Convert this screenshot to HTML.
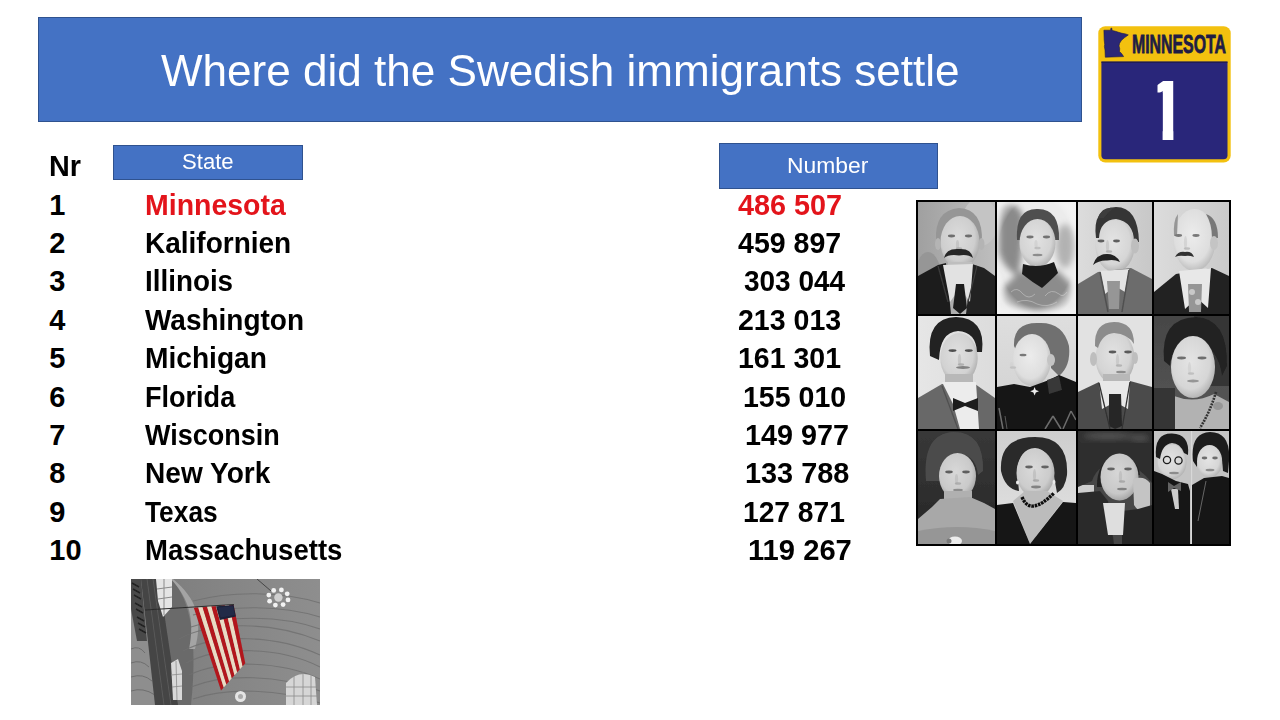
<!DOCTYPE html>
<html><head><meta charset="utf-8"><title>Where did the Swedish immigrants settle</title>
<style>
html,body{margin:0;padding:0;background:#fff}
body{width:1280px;height:720px;position:relative;overflow:hidden;font-family:"Liberation Sans",Arial,sans-serif}
.box{position:absolute;box-sizing:border-box;background:#4472c4;border:1px solid #2f528f}
.t{position:absolute;white-space:pre;line-height:1;transform-origin:0 0;display:block}
.pic{position:absolute;display:block}
</style></head><body>
<div class="box" style="left:38px;top:17px;width:1044px;height:105px"></div>
<div class="box" style="left:113px;top:145px;width:190px;height:35px"></div>
<div class="box" style="left:719px;top:143px;width:219px;height:46px"></div>
<span class="t" style="left:160.73px;top:48.76px;font-size:44.00px;font-weight:400;color:#fff;transform:scaleX(1.0016)">Where did the Swedish immigrants settle</span>
<span class="t" style="left:181.92px;top:152.37px;font-size:21.43px;font-weight:400;color:#fff;transform:scaleX(1.0322)">State</span>
<span class="t" style="left:786.83px;top:155.13px;font-size:21.71px;font-weight:400;color:#fff;transform:scaleX(1.0546)">Number</span>
<span class="t" style="left:48.83px;top:152.06px;font-size:29.00px;font-weight:700;color:#000;transform:scaleX(0.9928)">Nr</span>
<span class="t" style="left:49.30px;top:191.06px;font-size:29.00px;font-weight:700;color:#000">1</span>
<span class="t" style="left:144.92px;top:191.06px;font-size:29.00px;font-weight:700;color:#e3141b;transform:scaleX(0.9819)">Minnesota</span>
<span class="t" style="left:737.77px;top:191.06px;font-size:29.00px;font-weight:700;color:#e3141b;transform:scaleX(0.9934)">486 507</span>
<span class="t" style="left:49.30px;top:229.06px;font-size:29.00px;font-weight:700;color:#000">2</span>
<span class="t" style="left:145.06px;top:229.06px;font-size:29.00px;font-weight:700;color:#000;transform:scaleX(0.9654)">Kalifornien</span>
<span class="t" style="left:738.24px;top:229.06px;font-size:29.00px;font-weight:700;color:#000;transform:scaleX(0.9846)">459 897</span>
<span class="t" style="left:49.30px;top:267.06px;font-size:29.00px;font-weight:700;color:#000">3</span>
<span class="t" style="left:145.10px;top:267.06px;font-size:29.00px;font-weight:700;color:#000;transform:scaleX(0.9589)">Illinois</span>
<span class="t" style="left:744.01px;top:267.06px;font-size:29.00px;font-weight:700;color:#000;transform:scaleX(0.9647)">303 044</span>
<span class="t" style="left:49.30px;top:306.06px;font-size:29.00px;font-weight:700;color:#000">4</span>
<span class="t" style="left:145.45px;top:306.06px;font-size:29.00px;font-weight:700;color:#000;transform:scaleX(0.9645)">Washington</span>
<span class="t" style="left:738.06px;top:306.06px;font-size:29.00px;font-weight:700;color:#000;transform:scaleX(0.9841)">213 013</span>
<span class="t" style="left:49.30px;top:344.06px;font-size:29.00px;font-weight:700;color:#000">5</span>
<span class="t" style="left:145.19px;top:344.06px;font-size:29.00px;font-weight:700;color:#000;transform:scaleX(0.9705)">Michigan</span>
<span class="t" style="left:738.49px;top:344.06px;font-size:29.00px;font-weight:700;color:#000;transform:scaleX(0.9825)">161 301</span>
<span class="t" style="left:49.30px;top:383.06px;font-size:29.00px;font-weight:700;color:#000">6</span>
<span class="t" style="left:144.59px;top:383.06px;font-size:29.00px;font-weight:700;color:#000;transform:scaleX(0.9329)">Florida</span>
<span class="t" style="left:742.86px;top:383.06px;font-size:29.00px;font-weight:700;color:#000;transform:scaleX(0.9837)">155 010</span>
<span class="t" style="left:49.30px;top:421.06px;font-size:29.00px;font-weight:700;color:#000">7</span>
<span class="t" style="left:145.33px;top:421.06px;font-size:29.00px;font-weight:700;color:#000;transform:scaleX(0.9302)">Wisconsin</span>
<span class="t" style="left:744.62px;top:421.06px;font-size:29.00px;font-weight:700;color:#000;transform:scaleX(0.9912)">149 977</span>
<span class="t" style="left:49.30px;top:459.06px;font-size:29.00px;font-weight:700;color:#000">8</span>
<span class="t" style="left:145.21px;top:459.06px;font-size:29.00px;font-weight:700;color:#000;transform:scaleX(0.9679)">New York</span>
<span class="t" style="left:744.60px;top:459.06px;font-size:29.00px;font-weight:700;color:#000;transform:scaleX(0.9948)">133 788</span>
<span class="t" style="left:49.30px;top:498.06px;font-size:29.00px;font-weight:700;color:#000">9</span>
<span class="t" style="left:145.01px;top:498.06px;font-size:29.00px;font-weight:700;color:#000;transform:scaleX(0.9074)">Texas</span>
<span class="t" style="left:743.13px;top:498.06px;font-size:29.00px;font-weight:700;color:#000;transform:scaleX(0.9722)">127 871</span>
<span class="t" style="left:49.30px;top:536.06px;font-size:29.00px;font-weight:700;color:#000">10</span>
<span class="t" style="left:144.50px;top:536.06px;font-size:29.00px;font-weight:700;color:#000;transform:scaleX(0.9493)">Massachusetts</span>
<span class="t" style="left:747.80px;top:536.06px;font-size:29.00px;font-weight:700;color:#000;transform:scaleX(1.0058)">119 267</span>
<svg class="pic" style="left:1096px;top:24px" width="138" height="141" viewBox="1096 24 138 141">
<rect x="1098.3" y="26.2" width="132.4" height="136.3" rx="7" fill="#f3c10f"/>
<path d="M1101.4 61.8 H1227.5 V155.3 Q1227.5 159.3 1223.5 159.3 H1105.4 Q1101.4 159.3 1101.4 155.3 Z" fill="#29267a"/>
<rect x="1101.4" y="61.5" width="126.1" height="1.3" fill="#1e1b4e"/>
<path d="M1103.9 30.2 L1110.6 30.2 L1110.9 28.2 L1111.8 28.2 L1112.1 30.4 L1115.5 31.3 L1118.5 32.3 L1122 33.3 L1125.5 33.9 L1128.3 34.9 L1124.6 37.6 L1121.5 40.3 L1119.6 43.2 L1119 45.9 L1119.7 48.6 L1119.5 51.4 L1121.6 53.6 L1123.6 56.6 L1105.3 57.2 L1105 50 L1104.4 46.5 L1104.7 44.5 L1104.2 40 Z" fill="#2b2776" stroke="#1d1a45" stroke-width="0.6"/>
<text x="1132" y="52.7" font-family="Liberation Sans, Arial, sans-serif" font-weight="700" font-size="26" fill="#201c44" textLength="94" lengthAdjust="spacingAndGlyphs" stroke="#201c44" stroke-width="0.8">MINNESOTA</text>
<clipPath id="oneclip"><path d="M1157.5 70 L1173.4 70 L1173.4 141 L1162.6 141 L1162.6 92.5 L1157.5 92.5 Z"/></clipPath>
<g clip-path="url(#oneclip)"><text x="0" y="0" font-family="Liberation Sans, Arial, sans-serif" font-weight="700" font-size="85.8" fill="#fff" transform="translate(1144.3 140) scale(0.92 1)">1</text></g>
</svg>

<svg class="pic" style="left:916px;top:200px" width="315" height="346" viewBox="916 200 315 346">
<defs><filter id="pb" x="0" y="0" width="1" height="1"><feGaussianBlur stdDeviation="0.75"/></filter><filter id="pb3" x="-20%" y="-20%" width="140%" height="140%"><feGaussianBlur stdDeviation="3"/></filter><radialGradient id="vig" cx="0.5" cy="0.45" r="0.62"><stop offset="0.78" stop-color="#fff" stop-opacity="0"/><stop offset="1" stop-color="#f2f2f2" stop-opacity="0.9"/></radialGradient><clipPath id="c0"><rect x="0" y="0" width="77" height="112"/></clipPath><clipPath id="c1"><rect x="0" y="0" width="79" height="112"/></clipPath><clipPath id="c2"><rect x="0" y="0" width="74" height="112"/></clipPath><clipPath id="c3"><rect x="0" y="0" width="75" height="112"/></clipPath><clipPath id="c4"><rect x="0" y="0" width="77" height="113"/></clipPath><clipPath id="c5"><rect x="0" y="0" width="79" height="113"/></clipPath><clipPath id="c6"><rect x="0" y="0" width="74" height="113"/></clipPath><clipPath id="c7"><rect x="0" y="0" width="75" height="113"/></clipPath><clipPath id="c8"><rect x="0" y="0" width="77" height="113"/></clipPath><clipPath id="c9"><rect x="0" y="0" width="79" height="113"/></clipPath><clipPath id="c10"><rect x="0" y="0" width="74" height="113"/></clipPath><clipPath id="c11"><rect x="0" y="0" width="75" height="113"/></clipPath><linearGradient id="bg1" x1="0" y1="0" x2="1" y2="0"><stop offset="0" stop-color="#a0a0a0"/><stop offset="1" stop-color="#bebebe"/></linearGradient><radialGradient id="fg206" cx="0.45" cy="0.42" r="0.62"><stop offset="0" stop-color="#dcdcdc"/><stop offset="0.7" stop-color="#cecece"/><stop offset="1" stop-color="#a6a6a6"/></radialGradient><radialGradient id="fg212" cx="0.45" cy="0.42" r="0.62"><stop offset="0" stop-color="#e2e2e2"/><stop offset="0.7" stop-color="#d4d4d4"/><stop offset="1" stop-color="#acacac"/></radialGradient><linearGradient id="bg3" x1="0" y1="0" x2="1" y2="0"><stop offset="0" stop-color="#dcdcdc"/><stop offset="1" stop-color="#c8c8c8"/></linearGradient><radialGradient id="fg214" cx="0.45" cy="0.42" r="0.62"><stop offset="0" stop-color="#e4e4e4"/><stop offset="0.7" stop-color="#d6d6d6"/><stop offset="1" stop-color="#aeaeae"/></radialGradient><linearGradient id="bg4" x1="0" y1="0" x2="1" y2="0"><stop offset="0" stop-color="#dcdcdc"/><stop offset="1" stop-color="#cacaca"/></linearGradient><radialGradient id="fg222" cx="0.45" cy="0.42" r="0.62"><stop offset="0" stop-color="#ececec"/><stop offset="0.7" stop-color="#dedede"/><stop offset="1" stop-color="#b6b6b6"/></radialGradient><linearGradient id="bg5" x1="0" y1="0" x2="1" y2="0"><stop offset="0" stop-color="#e6e6e6"/><stop offset="1" stop-color="#dcdcdc"/></linearGradient><radialGradient id="fg210" cx="0.45" cy="0.42" r="0.62"><stop offset="0" stop-color="#e0e0e0"/><stop offset="0.7" stop-color="#d2d2d2"/><stop offset="1" stop-color="#aaaaaa"/></radialGradient><linearGradient id="bg6" x1="0" y1="0" x2="0" y2="1"><stop offset="0" stop-color="#dedede"/><stop offset="1" stop-color="#d0d0d0"/></linearGradient><linearGradient id="bg8" x1="0" y1="0" x2="0" y2="1"><stop offset="0" stop-color="#464646"/><stop offset="1" stop-color="#585858"/></linearGradient><linearGradient id="bg9" x1="0" y1="0" x2="0" y2="1"><stop offset="0" stop-color="#383838"/><stop offset="1" stop-color="#262626"/></linearGradient><radialGradient id="fg202" cx="0.45" cy="0.42" r="0.62"><stop offset="0" stop-color="#d8d8d8"/><stop offset="0.7" stop-color="#cacaca"/><stop offset="1" stop-color="#a2a2a2"/></radialGradient><linearGradient id="bg10" x1="0" y1="0" x2="0" y2="1"><stop offset="0" stop-color="#cecece"/><stop offset="1" stop-color="#e4e4e4"/></linearGradient><radialGradient id="fg204" cx="0.45" cy="0.42" r="0.62"><stop offset="0" stop-color="#dadada"/><stop offset="0.7" stop-color="#cccccc"/><stop offset="1" stop-color="#a4a4a4"/></radialGradient><radialGradient id="fg200" cx="0.45" cy="0.42" r="0.62"><stop offset="0" stop-color="#d6d6d6"/><stop offset="0.7" stop-color="#c8c8c8"/><stop offset="1" stop-color="#a0a0a0"/></radialGradient></defs>
<rect x="916" y="200" width="315" height="346" fill="#000"/>
<g transform="translate(918 202)" clip-path="url(#c0)"><g filter="url(#pb)"><rect x="0" y="0" width="77" height="112" fill="url(#bg1)"/><ellipse cx="62" cy="20" rx="18" ry="24" fill="#c4c4c4"/><ellipse cx="10" cy="80" rx="14" ry="30" fill="#969696"/><path d="M18 40 Q16 8 41 6 Q65 7 64 40 Z" fill="#969696"/><ellipse cx="42" cy="40" rx="19.5" ry="26" fill="url(#fg206)"/><ellipse cx="20" cy="42" rx="3" ry="6" fill="#b4b4b4"/><ellipse cx="63.5" cy="42" rx="3" ry="6" fill="#b4b4b4"/><ellipse cx="33.5" cy="34" rx="3.6" ry="1.4" fill="#6e6e6e"/><ellipse cx="50.5" cy="34" rx="3.6" ry="1.4" fill="#6e6e6e"/><ellipse cx="39.5" cy="42.5" rx="1.6" ry="4.5" fill="#b7b7b7" opacity="0.55"/><ellipse cx="41.0" cy="46.5" rx="3.2" ry="1.3" fill="#a0a0a0" opacity="0.7"/><path d="M26 56 Q28 46 41 47 Q53 46 55 56 Q50 52 41 53.5 Q31 52 26 56 Z" fill="#282828"/><rect x="30" y="60" width="24" height="10" fill="#bebebe"/><path d="M0 74 L20 63 L28 61 L33 112 L0 112 Z" fill="#1e1e1e"/><path d="M54 62 L66 66 L77 74 L77 112 L48 112 Z" fill="#202020"/><polygon points="25,63 55,62 52,100 42,86 32,100" fill="#e2e2e2"/><polygon points="38,82 46,82 49,106 42,112 35,106" fill="#1e1e1e"/><line x1="20" y1="64" x2="30" y2="100" stroke="#3c3c3c" stroke-width="1.2"/><line x1="59" y1="64" x2="50" y2="100" stroke="#3c3c3c" stroke-width="1.2"/></g></g>
<g transform="translate(997 202)" clip-path="url(#c1)"><g filter="url(#pb)"><rect x="0" y="0" width="79" height="112" fill="#ececec"/><g filter="url(#pb3)"><path d="M2 2 Q20 -2 26 14 Q27 44 21 74 Q6 66 2 50 Z" fill="#8a8a8a"/><ellipse cx="68" cy="44" rx="9" ry="22" fill="#b2b2b2"/><polygon points="6,86 22,70 60,68 74,82 76,106 40,110 4,104" fill="#8c8c8c"/></g><path d="M20 38 Q18 6 41 7 Q63 7 62 38 Z" fill="#505050"/><ellipse cx="40.5" cy="41" rx="18" ry="24" fill="url(#fg212)"/><ellipse cx="33" cy="35" rx="3.6" ry="1.4" fill="#737373"/><ellipse cx="49.5" cy="35" rx="3.6" ry="1.4" fill="#737373"/><ellipse cx="39" cy="42" rx="1.6" ry="4" fill="#c8c8c8" opacity="0.55"/><ellipse cx="40.5" cy="46" rx="3.2" ry="1.3" fill="#b4b4b4" opacity="0.7"/><ellipse cx="40.5" cy="53" rx="5" ry="1.2" fill="#8c8c8c"/><path d="M26 62 Q41 67 57 60 L61 71 Q52 80 45 86 Q35 80 25 72 Z" fill="#1e1e1e"/><g stroke="#b8b8b8" stroke-width="1" fill="none" opacity="0.8"><path d="M14 90 Q20 84 26 92 Q32 98 38 92"/><path d="M48 94 Q54 86 62 92 Q66 96 70 90"/><path d="M20 100 Q30 96 40 102 Q50 106 60 100"/></g><rect x="0" y="0" width="79" height="112" fill="url(#vig)"/></g></g>
<g transform="translate(1078 202)" clip-path="url(#c2)"><g filter="url(#pb)"><rect x="0" y="0" width="74" height="112" fill="url(#bg3)"/><ellipse cx="37" cy="44" rx="19.5" ry="26" fill="url(#fg214)"/><path d="M18 36 Q14 6 38 5 Q60 5 61 40 L56 40 Q56 20 38 17 Q22 18 21 36 Z" fill="#343434"/><path d="M20 16 Q24 4 36 6 Q30 10 26 16 Z" fill="#3c3c3c"/><ellipse cx="57" cy="44" rx="4" ry="7.5" fill="#bebebe"/><ellipse cx="23" cy="39" rx="3.4" ry="1.4" fill="#5f5f5f"/><ellipse cx="38.5" cy="39" rx="3.4" ry="1.4" fill="#5f5f5f"/><ellipse cx="29.5" cy="44.0" rx="1.6" ry="6.0" fill="#bcbcbc" opacity="0.55"/><ellipse cx="31.0" cy="49.5" rx="3.2" ry="1.3" fill="#a5a5a5" opacity="0.7"/><path d="M15 63 Q18 52 29 52 Q38 52 42 60 Q36 57 29 58.5 Q21 58 15 63 Z" fill="#202020"/><path d="M0 82 L20 70 L53 66 L74 77 L74 112 L0 112 Z" fill="#6c6c6c"/><polygon points="22,69 51,67 47,90 37,84 27,92" fill="#e4e4e4"/><polygon points="29,79 42,79 41,107 31,107" fill="#969696"/><line x1="22" y1="70" x2="30" y2="110" stroke="#505050" stroke-width="1.5"/><line x1="51" y1="68" x2="44" y2="110" stroke="#505050" stroke-width="1.5"/></g></g>
<g transform="translate(1154 202)" clip-path="url(#c3)"><g filter="url(#pb)"><rect x="0" y="0" width="75" height="112" fill="url(#bg4)"/><ellipse cx="40.5" cy="38" rx="21" ry="31" fill="url(#fg222)"/><path d="M52 12 Q64 16 64 36 L58 36 Q58 22 52 12 Z" fill="#787878"/><path d="M20 34 Q19 18 24 12 L23 34 Z" fill="#969696"/><ellipse cx="60" cy="41" rx="4" ry="7" fill="#c4c4c4"/><ellipse cx="24.5" cy="33.5" rx="3.6" ry="1.4" fill="#787878"/><ellipse cx="42" cy="33.5" rx="3.6" ry="1.4" fill="#787878"/><ellipse cx="31.5" cy="40.5" rx="1.6" ry="6.5" fill="#c6c6c6" opacity="0.55"/><ellipse cx="33.0" cy="46.5" rx="3.2" ry="1.3" fill="#afafaf" opacity="0.7"/><path d="M21 55 Q24 49 31 50 Q38 49 40 55 Q35 53 31 54 Q25 53 21 55 Z" fill="#323232"/><path d="M0 90 L22 72 L58 66 L75 74 L75 112 L0 112 Z" fill="#222222"/><polygon points="25,69 57,66 54,106 43,96 31,107" fill="#e8e8e8"/><polygon points="34,82 48,82 47,110 35,110" fill="#969696"/><ellipse cx="38" cy="90" rx="3" ry="3" fill="#c8c8c8"/><ellipse cx="44" cy="100" rx="3" ry="3" fill="#c8c8c8"/></g></g>
<g transform="translate(918 316)" clip-path="url(#c4)"><g filter="url(#pb)"><rect x="0" y="0" width="77" height="113" fill="url(#bg5)"/><ellipse cx="41" cy="42" rx="18.7" ry="25" fill="url(#fg210)"/><path d="M12 40 Q8 2 38 1 Q68 2 64 36 L59 36 Q58 16 40 15 Q22 16 21 44 Z" fill="#202020"/><ellipse cx="34.5" cy="34.6" rx="4" ry="1.4" fill="#505050"/><ellipse cx="50.8" cy="34.6" rx="4" ry="1.4" fill="#505050"/><ellipse cx="41.5" cy="43.5" rx="1.6" ry="5.5" fill="#b7b7b7" opacity="0.55"/><ellipse cx="43.0" cy="48.5" rx="3.2" ry="1.3" fill="#a0a0a0" opacity="0.7"/><ellipse cx="45" cy="51.5" rx="7" ry="1.4" fill="#828282"/><rect x="27" y="58" width="28" height="12" fill="#b8b8b8"/><path d="M0 82 L24 68 L57 68 L77 82 L77 113 L0 113 Z" fill="#686868"/><polygon points="24,66 58,66 61,113 42,113 35,88" fill="#ececec"/><polygon points="35,82 47,87 60,82 60,95 47,90 35,95" fill="#1c1c1c"/><line x1="24" y1="70" x2="40" y2="113" stroke="#505050" stroke-width="1.3"/></g></g>
<g transform="translate(997 316)" clip-path="url(#c5)"><g filter="url(#pb)"><rect x="0" y="0" width="79" height="113" fill="url(#bg6)"/><path d="M17 30 Q16 6 42 7 Q66 6 72 30 Q74 50 62 60 L54 52 Q56 30 40 22 Q24 22 22 40 Z" fill="#707070"/><ellipse cx="35" cy="44" rx="19" ry="26" fill="url(#fg222)"/><ellipse cx="54" cy="44" rx="4" ry="6" fill="#c4c4c4"/><ellipse cx="26" cy="39" rx="3.5" ry="1.3" fill="#787878"/><ellipse cx="14.5" cy="49.0" rx="1.6" ry="3.0" fill="#d0d0d0" opacity="0.55"/><ellipse cx="16.0" cy="51.5" rx="3.2" ry="1.3" fill="#b9b9b9" opacity="0.7"/><path d="M0 71 L17 68 L33 71 L52 64 L62 59 L79 66 L79 113 L0 113 Z" fill="#161616"/><polygon points="50,64 62,60 65,74 52,78" fill="#373737"/><polygon points="37.6,71 38.8,74 42,75.2 38.8,76.4 37.6,79.4 36.4,76.4 33.2,75.2 36.4,74" fill="#eee"/><line x1="2" y1="92" x2="6" y2="113" stroke="#6e6e6e" stroke-width="1.5"/><line x1="8" y1="100" x2="10" y2="113" stroke="#5a5a5a" stroke-width="1"/><line x1="48" y1="113" x2="56" y2="100" stroke="#6e6e6e" stroke-width="1.5"/><line x1="56" y1="100" x2="64" y2="113" stroke="#6e6e6e" stroke-width="1.5"/><line x1="66" y1="113" x2="74" y2="95" stroke="#6e6e6e" stroke-width="1.5"/><line x1="74" y1="95" x2="79" y2="104" stroke="#6e6e6e" stroke-width="1.5"/></g></g>
<g transform="translate(1078 316)" clip-path="url(#c6)"><g filter="url(#pb)"><rect x="0" y="0" width="74" height="113" fill="#e2e2e2"/><ellipse cx="37" cy="42" rx="19.5" ry="26.5" fill="url(#fg212)"/><path d="M17 30 Q16 6 36 6 Q56 6 56 28 Q50 18 36 17 Q24 18 20 32 Z" fill="#8c8c8c"/><ellipse cx="15.5" cy="43" rx="3.5" ry="7" fill="#bebebe"/><ellipse cx="57" cy="42" rx="3" ry="6" fill="#bebebe"/><ellipse cx="34.5" cy="36" rx="3.8" ry="1.4" fill="#5a5a5a"/><ellipse cx="50" cy="36" rx="3.8" ry="1.4" fill="#5a5a5a"/><ellipse cx="39.5" cy="44.0" rx="1.6" ry="6.0" fill="#bcbcbc" opacity="0.55"/><ellipse cx="41.0" cy="49.5" rx="3.2" ry="1.3" fill="#a5a5a5" opacity="0.7"/><ellipse cx="43" cy="56" rx="5" ry="1.3" fill="#8c8c8c"/><rect x="25" y="58" width="27" height="10" fill="#b8b8b8"/><path d="M0 76 L21 66 L52 65 L74 71 L74 113 L0 113 Z" fill="#4c4c4c"/><polygon points="21,65 52,65 50,93 37,86 24,93" fill="#e8e8e8"/><polygon points="31,78 43,78 44,110 37,113 31,110" fill="#282828"/><line x1="21" y1="67" x2="32" y2="113" stroke="#323232" stroke-width="1.3"/><line x1="52" y1="66" x2="44" y2="113" stroke="#323232" stroke-width="1.3"/></g></g>
<g transform="translate(1154 316)" clip-path="url(#c7)"><g filter="url(#pb)"><rect x="0" y="0" width="75" height="113" fill="url(#bg8)"/><rect x="40" y="0" width="35" height="70" fill="#363636"/><path d="M10 45 Q6 2 42 1 Q74 2 73 50 L68 60 Q64 30 40 24 Q18 28 16 50 Z" fill="#242424"/><ellipse cx="39" cy="51" rx="22" ry="31" fill="url(#fg214)"/><ellipse cx="27.5" cy="42" rx="4.5" ry="1.4" fill="#6e6e6e"/><ellipse cx="48" cy="42" rx="4.5" ry="1.4" fill="#6e6e6e"/><ellipse cx="35.5" cy="52.0" rx="1.6" ry="6.0" fill="#cbcbcb" opacity="0.55"/><ellipse cx="37.0" cy="57.5" rx="3.2" ry="1.3" fill="#b4b4b4" opacity="0.7"/><ellipse cx="39" cy="65" rx="6" ry="1.5" fill="#969696"/><path d="M18 113 L20 80 Q40 88 60 78 L75 86 L75 113 Z" fill="#b2b2b2"/><rect x="0" y="72" width="21" height="41" fill="#343434"/><path d="M62 76 Q56 96 46 112" fill="none" stroke="#333" stroke-width="2.6" stroke-dasharray="2 1"/><ellipse cx="64" cy="90" rx="5" ry="4" fill="#969696"/></g></g>
<g transform="translate(918 431)" clip-path="url(#c8)"><g filter="url(#pb)"><rect x="0" y="0" width="77" height="113" fill="url(#bg9)"/><path d="M8 50 Q4 2 36 1 Q66 1 65 40 L60 44 Q58 24 40 22 Q22 24 22 50 Z" fill="#4c4c4c"/><ellipse cx="39.5" cy="45" rx="18.5" ry="23" fill="url(#fg202)"/><ellipse cx="31" cy="41" rx="3.8" ry="1.4" fill="#5f5f5f"/><ellipse cx="48" cy="41" rx="3.8" ry="1.4" fill="#5f5f5f"/><ellipse cx="38.5" cy="48.0" rx="1.6" ry="5.0" fill="#b7b7b7" opacity="0.55"/><ellipse cx="40.0" cy="52.5" rx="3.2" ry="1.3" fill="#a0a0a0" opacity="0.7"/><ellipse cx="40" cy="59" rx="5" ry="1.3" fill="#8c8c8c"/><rect x="26" y="60" width="28" height="14" fill="#b0b0b0"/><path d="M0 88 L14 76 L22 68 L52 66 L66 72 L77 78 L77 113 L0 113 Z" fill="#a8a8a8"/><path d="M0 100 Q40 92 77 100 L77 113 L0 113 Z" fill="#969696"/><ellipse cx="37" cy="110" rx="7" ry="4.5" fill="#ececec"/><ellipse cx="31" cy="110" rx="2.5" ry="2.5" fill="#787878"/></g></g>
<g transform="translate(997 431)" clip-path="url(#c9)"><g filter="url(#pb)"><rect x="0" y="0" width="79" height="113" fill="url(#bg10)"/><path d="M4 40 Q2 6 38 6 Q72 6 70 44 Q68 58 60 62 L56 40 Q52 18 38 17 Q22 18 20 40 L22 60 Q8 58 4 40 Z" fill="#2a2a2a"/><ellipse cx="38.5" cy="42" rx="19" ry="24" fill="url(#fg204)"/><ellipse cx="32" cy="36" rx="3.8" ry="1.4" fill="#646464"/><ellipse cx="48" cy="36" rx="3.8" ry="1.4" fill="#646464"/><ellipse cx="37.5" cy="44.0" rx="1.6" ry="6.0" fill="#b2b2b2" opacity="0.55"/><ellipse cx="39.0" cy="49.5" rx="3.2" ry="1.3" fill="#9b9b9b" opacity="0.7"/><ellipse cx="39" cy="56" rx="5" ry="1.4" fill="#828282"/><ellipse cx="20.5" cy="51.6" rx="1.5" ry="2" fill="#ebebeb"/><ellipse cx="57" cy="51" rx="1.5" ry="2" fill="#ebebeb"/><path d="M16 70 L28 60 L50 60 L66 70 L33 113 Z" fill="#bcbcbc"/><path d="M25 66 Q33 86 57 62" fill="none" stroke="#111" stroke-width="3.4" stroke-dasharray="2.6 0.8"/><polygon points="0,74 16,72 33,113 0,113" fill="#141414"/><polygon points="66,71 79,72 79,113 33,113" fill="#141414"/></g></g>
<g transform="translate(1078 431)" clip-path="url(#c10)"><g filter="url(#pb)"><rect x="0" y="0" width="74" height="113" fill="#464646"/><rect x="0" y="54" width="16" height="13" fill="#cecece"/><path d="M0 56 L0 0 L74 0 L74 52 Q62 36 42 30 Q20 32 14 50 Z" fill="#2e2e2e"/><g filter="url(#pb3)"><ellipse cx="30" cy="5" rx="26" ry="3" fill="#5c5c5c"/><ellipse cx="62" cy="7" rx="10" ry="3" fill="#585858"/></g><path d="M19 56 Q18 30 40 24 Q60 26 62 44 L56 44 Q50 30 40 30 Q26 32 25 56 Z" fill="#242424"/><ellipse cx="41.5" cy="46" rx="19" ry="23.5" fill="url(#fg200)"/><ellipse cx="33" cy="38" rx="3.8" ry="1.4" fill="#646464"/><ellipse cx="50" cy="38" rx="3.8" ry="1.4" fill="#646464"/><ellipse cx="42.5" cy="45.5" rx="1.6" ry="5.5" fill="#b2b2b2" opacity="0.55"/><ellipse cx="44.0" cy="50.5" rx="3.2" ry="1.3" fill="#9b9b9b" opacity="0.7"/><ellipse cx="44" cy="58" rx="5" ry="1.3" fill="#828282"/><path d="M55 48 Q66 44 72 52 L72 80 Q62 84 56 74 Z" fill="#c4c4c4"/><path d="M0 62 L22 60 L30 70 L36 113 L0 113 Z" fill="#2c2c2c"/><path d="M44 80 L60 78 L74 74 L74 113 L44 113 Z" fill="#282828"/><polygon points="25,72 47,72 45,104 30,104" fill="#dedede"/></g></g>
<g transform="translate(1154 431)" clip-path="url(#c11)"><g filter="url(#pb)"><rect x="0" y="0" width="75" height="113" fill="#c4c4c4"/><rect x="37" y="0" width="1.2" height="113" fill="#d8d8d8"/><ellipse cx="18" cy="31" rx="14.5" ry="17.5" fill="url(#fg212)"/><path d="M2 26 Q0 2 18 2.5 Q36 3 34 24 L30 22 Q26 12 18 12 Q8 13 6 28 Z" fill="#1c1c1c"/><circle cx="13" cy="29" r="3.6" fill="none" stroke="#1c1c1c" stroke-width="1.3"/><circle cx="24.5" cy="29.5" r="3.6" fill="none" stroke="#1c1c1c" stroke-width="1.3"/><ellipse cx="20" cy="42" rx="5" ry="1.3" fill="#8c8c8c"/><path d="M0 40 L8 43 L22 50 L34 53 L36 60 L36 113 L0 113 Z" fill="#161616"/><polygon points="17,58 24,58 25,78 21,78" fill="#cdcdcd"/><polygon points="14,51 20,55 27,51 27,60 20,57 14,61" fill="#646464"/><path d="M39 30 Q36 2 56 1 Q77 1 75 30 L74 42 L69 40 Q68 16 56 16 Q44 17 43 36 Z" fill="#1c1c1c"/><ellipse cx="55.6" cy="30.4" rx="12.6" ry="16.4" fill="url(#fg214)"/><ellipse cx="50.5" cy="27" rx="2.8" ry="1.4" fill="#6e6e6e"/><ellipse cx="61" cy="27" rx="2.8" ry="1.4" fill="#6e6e6e"/><ellipse cx="56" cy="39" rx="4.5" ry="1.3" fill="#8c8c8c"/><path d="M38 54 L50 47 L68 45 L75 47 L75 113 L38 113 Z" fill="#181818"/><line x1="52" y1="50" x2="44" y2="90" stroke="#787878" stroke-width="0.8"/></g></g>
</svg>
<svg class="pic" style="left:131px;top:579px" width="189" height="126" viewBox="0 0 189 126">
<defs>
<linearGradient id="fg1" x1="0" y1="0" x2="1" y2="0"><stop offset="0" stop-color="#7a7a7a"/><stop offset="0.5" stop-color="#858585"/><stop offset="1" stop-color="#8e8e8e"/></linearGradient>
<filter id="fb" x="0" y="0" width="1" height="1"><feGaussianBlur stdDeviation="0.7"/></filter>
<clipPath id="fc"><rect width="189" height="126"/></clipPath>
</defs>
<g clip-path="url(#fc)"><g filter="url(#fb)">
<rect width="189" height="126" fill="url(#fg1)"/>
<path d="M40 0 Q70 30 60 126 L0 126 L0 0 Z" fill="#6a6a6a"/>
<path d="M42 0 C66 20 72 40 64 70 L58 70 C64 40 58 20 40 0 Z" fill="#a4a4a4"/>
<g fill="none" stroke="#6f6f6f" stroke-width="1.2" opacity="0.8">
<path d="M48 60 C80 42 140 42 189 62"/><path d="M52 72 C86 54 146 56 189 76"/><path d="M55 84 C90 66 150 68 189 88"/>
<path d="M58 96 C92 80 150 82 189 100"/><path d="M60 108 C94 94 150 96 189 112"/><path d="M62 120 C96 108 150 110 189 124"/>
<path d="M62 22 C100 12 150 12 189 24"/><path d="M62 36 C100 26 150 26 189 38"/><path d="M60 48 C96 36 150 36 189 50"/>
</g>
<polygon points="0,0 12,0 30,126 0,126" fill="#8e8e8e"/>
<polygon points="0,0 10,0 16,62 6,62 0,30" fill="#4a4a4a"/>
<g stroke="#222" stroke-width="1.6"><line x1="1" y1="4" x2="8" y2="8"/><line x1="2" y1="10" x2="9" y2="14"/><line x1="3" y1="16" x2="10" y2="20"/><line x1="4" y1="24" x2="11" y2="28"/><line x1="5" y1="30" x2="12" y2="34"/><line x1="6" y1="38" x2="13" y2="42"/><line x1="7" y1="44" x2="14" y2="48"/><line x1="8" y1="50" x2="15" y2="54"/></g>
<g stroke="#6e6e6e" stroke-width="1" fill="none"><path d="M0 70 Q8 66 14 74"/><path d="M0 84 Q10 80 18 88"/><path d="M0 98 Q12 94 21 102"/><path d="M0 112 Q12 108 24 116"/></g>
<polygon points="10,0 28,0 47,126 24,126" fill="#444"/>
<g stroke="#5a5a5a" stroke-width="1"><line x1="16" y1="0" x2="33" y2="126"/><line x1="22" y1="0" x2="40" y2="126"/></g>
<polygon points="25,0 41,0 41,28 32,38 27,22" fill="#e4e4e4"/>
<g stroke="#8a8a8a" stroke-width="1"><line x1="33" y1="0" x2="33" y2="36"/><line x1="26" y1="10" x2="41" y2="8"/><line x1="27" y1="20" x2="41" y2="18"/></g>
<polygon points="40,84 47,80 51,92 51,121 42,121" fill="#d8d8d8"/>
<g stroke="#8a8a8a" stroke-width="0.8"><line x1="45" y1="82" x2="46" y2="121"/><line x1="40" y1="96" x2="51" y2="95"/><line x1="41" y1="108" x2="51" y2="107"/></g>
<path d="M155 126 L155 104 Q168 90 184 98 L186 126 Z" fill="#d6d6d6"/>
<g stroke="#8a8a8a" stroke-width="0.8"><line x1="163" y1="96" x2="163" y2="126"/><line x1="172" y1="93" x2="172" y2="126"/><line x1="180" y1="95" x2="180" y2="126"/><line x1="155" y1="108" x2="186" y2="108"/><line x1="155" y1="117" x2="186" y2="117"/></g>
<line x1="126" y1="0" x2="140" y2="12" stroke="#333" stroke-width="0.8"/>
<circle cx="147.4" cy="18.5" r="4.2" fill="#d0d0d0"/>
<circle cx="157.0" cy="20.9" r="2.4" fill="#f2f2f2"/><circle cx="152.1" cy="25.6" r="2.4" fill="#f2f2f2"/><circle cx="144.4" cy="26.1" r="2.4" fill="#f2f2f2"/><circle cx="138.6" cy="22.2" r="2.4" fill="#f2f2f2"/><circle cx="137.8" cy="16.1" r="2.4" fill="#f2f2f2"/><circle cx="142.7" cy="11.4" r="2.4" fill="#f2f2f2"/><circle cx="150.4" cy="10.9" r="2.4" fill="#f2f2f2"/><circle cx="156.2" cy="14.8" r="2.4" fill="#f2f2f2"/>
<circle cx="109.5" cy="117.5" r="5.5" fill="#e4e4e4"/><circle cx="109.5" cy="117.5" r="2.5" fill="#aaa"/>
<line x1="14" y1="31" x2="103" y2="25.5" stroke="#2c2c2c" stroke-width="1.2"/>
<polygon points="62.8,28.8 67.2,28.5 92.7,108.4 90.0,111.4" fill="#b3161d"/>
<polygon points="67.2,28.5 71.6,28.2 95.4,105.4 92.7,108.4" fill="#eadbc4"/>
<polygon points="71.6,28.2 76.1,27.8 98.1,102.3 95.4,105.4" fill="#b3161d"/>
<polygon points="76.1,27.8 80.5,27.5 100.8,99.3 98.1,102.3" fill="#eadbc4"/>
<polygon points="80.5,27.5 84.9,27.2 103.5,96.3 100.8,99.3" fill="#b3161d"/>
<polygon points="84.9,27.2 89.3,26.9 106.2,93.3 103.5,96.3" fill="#eadbc4"/>
<polygon points="89.3,26.9 93.8,26.5 108.9,90.2 106.2,93.3" fill="#b3161d"/>
<polygon points="93.8,26.5 98.2,26.2 111.6,87.2 108.9,90.2" fill="#eadbc4"/>
<polygon points="98.2,26.2 102.6,25.9 114.3,84.2 111.6,87.2" fill="#b3161d"/>
<polygon points="85.1,27.2 102.6,25.9 104.9,37.6 88.8,41.0" fill="#1c2038"/>
<polygon points="87.0,28.4 102.0,27.1 103.8,36.0 89.7,38.6" fill="#2a3050" opacity="0.6"/>
</g></g>
</svg>
</body></html>
